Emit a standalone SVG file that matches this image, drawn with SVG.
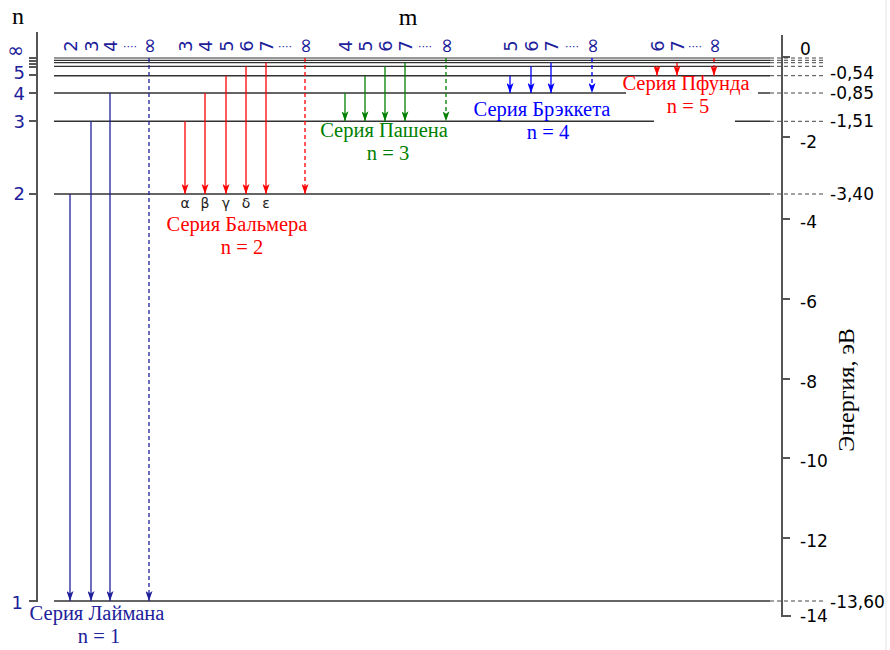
<svg xmlns="http://www.w3.org/2000/svg" width="890" height="650" viewBox="0 0 890 650">
<defs>
<style>
.lvl{stroke:#333;stroke-width:1.6;fill:none}
.lvt{stroke:#333;stroke-width:1.2;fill:none}
.ext{stroke:#444;stroke-width:1;stroke-dasharray:4,3;fill:none}
.ax{stroke:#555;stroke-width:2;fill:none}
.num{font-family:"DejaVu Sans",sans-serif;font-size:17px;fill:#000}
.nl{font-family:"DejaVu Sans",sans-serif;font-size:18px;fill:#20209a;text-anchor:end}
.ml{font-family:"DejaVu Sans",sans-serif;font-size:18px;fill:#20209a;text-anchor:middle}
.inf{font-size:20px}
.dots{font-family:"DejaVu Sans",sans-serif;font-size:11px;fill:#20209a}
.gr{font-family:"DejaVu Sans",sans-serif;font-size:14px;fill:#222;text-anchor:middle}
.ser{font-family:"Liberation Serif",serif;font-size:20.5px;text-anchor:middle}
.big{font-family:"Liberation Serif",serif;font-size:24px;fill:#000}
.a{stroke-width:1.3;fill:none}
.d{stroke-dasharray:4,3}
.ly{stroke:#20209a}.ba{stroke:#f00}.pa{stroke:#008000}.br{stroke:#00f}
</style>
<marker id="mLy" markerUnits="userSpaceOnUse" markerWidth="10" markerHeight="7" refX="10" refY="3.5" orient="auto"><path d="M0,0 L10,3.5 L0,7 L2.5,3.5 Z" fill="#20209a"/></marker>
<marker id="mR" markerUnits="userSpaceOnUse" markerWidth="10" markerHeight="7" refX="10" refY="3.5" orient="auto"><path d="M0,0 L10,3.5 L0,7 L2.5,3.5 Z" fill="#f00"/></marker>
<marker id="mG" markerUnits="userSpaceOnUse" markerWidth="10" markerHeight="7" refX="10" refY="3.5" orient="auto"><path d="M0,0 L10,3.5 L0,7 L2.5,3.5 Z" fill="#008000"/></marker>
<marker id="mB" markerUnits="userSpaceOnUse" markerWidth="10" markerHeight="7" refX="10" refY="3.5" orient="auto"><path d="M0,0 L10,3.5 L0,7 L2.5,3.5 Z" fill="#00f"/></marker>
</defs>
<rect width="890" height="650" fill="#fff"/>
<line x1="886" y1="0" x2="886" y2="650" stroke="#e2e2e2" stroke-width="1"/>

<g id="axes">
<text x="18" y="24" class="big" text-anchor="middle">n</text>
<text x="408" y="25" class="big" text-anchor="middle">m</text>
<path class="ax" d="M37,32 V601 H29"/>
<path class="ax" d="M29,58H37 M29,61H37 M29,64H37 M29,67H37 M29,75H37 M29,93H37 M29,121H37 M29,194H37"/>
<path class="ax" d="M782,35 V616 H791"/>
<path class="ax" d="M782,57H790 M782,137H790 M782,219H790 M782,299H790 M782,379H790 M782,458H790 M782,538H790"/>
<text class="big" transform="translate(854,390) rotate(-90)" text-anchor="middle">Энергия, эВ</text>
</g>

<g id="levels">
<path class="lvt" d="M54,58H770 M54,60.3H770 M54,62.7H770 M54,66.3H770"/>
<path class="lvl" d="M54,75.7H770 M54,93H626 M758,93H770 M54,121.3H654 M735,121.3H770 M54,194H770 M54,601H770"/>
<path class="ext" d="M770,58H826 M770,60.3H826 M770,62.7H826 M770,66.3H826 M770,75.7H826 M770,93H826 M770,121.3H826 M770,194H826 M770,601H826"/>
</g>

<g id="n-labels">
<text class="nl inf" x="24" y="57.3">∞</text>
<text class="nl" x="25" y="79.3">5</text>
<text class="nl" x="25" y="100.3">4</text>
<text class="nl" x="25" y="128">3</text>
<text class="nl" x="25" y="200">2</text>
<text class="nl" x="23" y="609">1</text>
</g>

<g id="energy-labels">
<text class="num" x="800" y="55">0</text>
<text class="num" x="830" y="79">-0,54</text>
<text class="num" x="830" y="99">-0,85</text>
<text class="num" x="830" y="127">-1,51</text>
<text class="num" x="830" y="200">-3,40</text>
<text class="num" x="830" y="608">-13,60</text>
<text class="num" x="800" y="148">-2</text>
<text class="num" x="800" y="228">-4</text>
<text class="num" x="800" y="308">-6</text>
<text class="num" x="800" y="388">-8</text>
<text class="num" x="800" y="467">-10</text>
<text class="num" x="800" y="547">-12</text>
<text class="num" x="800" y="622">-14</text>
</g>

<g id="m-labels">
<text class="ml" transform="translate(76.5,46) rotate(-90)">2</text>
<text class="ml" transform="translate(97.5,46) rotate(-90)">3</text>
<text class="ml" transform="translate(116.5,46) rotate(-90)">4</text>
<text class="dots" x="123" y="50">····</text>
<text class="ml inf" transform="translate(156,46) rotate(-90)">∞</text>

<text class="ml" transform="translate(191.5,46) rotate(-90)">3</text>
<text class="ml" transform="translate(211.5,46) rotate(-90)">4</text>
<text class="ml" transform="translate(232.5,46) rotate(-90)">5</text>
<text class="ml" transform="translate(252.5,46) rotate(-90)">6</text>
<text class="ml" transform="translate(272.5,46) rotate(-90)">7</text>
<text class="dots" x="278" y="50">····</text>
<text class="ml inf" transform="translate(312,46) rotate(-90)">∞</text>

<text class="ml" transform="translate(351.5,46) rotate(-90)">4</text>
<text class="ml" transform="translate(371.5,46) rotate(-90)">5</text>
<text class="ml" transform="translate(391.5,46) rotate(-90)">6</text>
<text class="ml" transform="translate(411.5,46) rotate(-90)">7</text>
<text class="dots" x="418" y="50">····</text>
<text class="ml inf" transform="translate(453,46) rotate(-90)">∞</text>

<text class="ml" transform="translate(516.5,46) rotate(-90)">5</text>
<text class="ml" transform="translate(537.5,46) rotate(-90)">6</text>
<text class="ml" transform="translate(557.5,46) rotate(-90)">7</text>
<text class="dots" x="565" y="50">····</text>
<text class="ml inf" transform="translate(599,46) rotate(-90)">∞</text>

<text class="ml" transform="translate(663.5,46) rotate(-90)">6</text>
<text class="ml" transform="translate(683.5,46) rotate(-90)">7</text>
<text class="dots" x="688" y="50">····</text>
<text class="ml inf" transform="translate(721,46) rotate(-90)">∞</text>
</g>

<g id="connectors">
<g class="a ly" marker-end="url(#mLy)">
<line x1="70" y1="194" x2="70" y2="601"/>
<line x1="91" y1="121.3" x2="91" y2="601"/>
<line x1="110" y1="93" x2="110" y2="601"/>
<line class="d" x1="149" y1="58" x2="149" y2="601"/>
</g>
<g class="a ba" marker-end="url(#mR)">
<line x1="185" y1="121.3" x2="185" y2="194"/>
<line x1="205" y1="93" x2="205" y2="194"/>
<line x1="226" y1="75.7" x2="226" y2="194"/>
<line x1="246" y1="66.3" x2="246" y2="194"/>
<line x1="266" y1="62.7" x2="266" y2="194"/>
<line class="d" x1="305" y1="58" x2="305" y2="194"/>
</g>
<g class="a pa" marker-end="url(#mG)">
<line x1="345" y1="93" x2="345" y2="121.3"/>
<line x1="365" y1="75.7" x2="365" y2="121.3"/>
<line x1="385" y1="66.3" x2="385" y2="121.3"/>
<line x1="405" y1="62.7" x2="405" y2="121.3"/>
<line class="d" x1="446" y1="58" x2="446" y2="121.3"/>
</g>
<g class="a br" marker-end="url(#mB)">
<line x1="510" y1="75.7" x2="510" y2="93"/>
<line x1="531" y1="66.3" x2="531" y2="93"/>
<line x1="551" y1="62.7" x2="551" y2="93"/>
<line class="d" x1="592" y1="58" x2="592" y2="93"/>
</g>
<g class="a ba" marker-end="url(#mR)">
<line x1="657" y1="66.3" x2="657" y2="75.7"/>
<line x1="677" y1="62.7" x2="677" y2="75.7"/>
<line class="d" x1="714" y1="58" x2="714" y2="75.7"/>
</g>
</g>

<g id="greek">
<text class="gr" x="185" y="208">α</text>
<text class="gr" x="205" y="208">β</text>
<text class="gr" x="226" y="208">γ</text>
<text class="gr" x="246" y="208">δ</text>
<text class="gr" x="266" y="208">ε</text>
</g>

<g id="lyman" fill="#20209a">
<text class="ser" x="97" y="620">Серия Лаймана</text>
<text class="ser" x="99" y="643">n = 1</text>
</g>
<g id="balmer" fill="#f00">
<text class="ser" x="237" y="231">Серия Бальмера</text>
<text class="ser" x="242" y="254">n = 2</text>
</g>
<g id="paschen" fill="#008000">
<text class="ser" x="384" y="137">Серия Пашена</text>
<text class="ser" x="388" y="160">n = 3</text>
</g>
<g id="brackett" fill="#00f">
<text class="ser" x="542" y="116">Серия Брэккета</text>
<text class="ser" x="548" y="139">n = 4</text>
</g>
<g id="pfund" fill="#f00">
<text class="ser" x="686" y="90">Серия Пфунда</text>
<text class="ser" x="688" y="113">n = 5</text>
</g>
</svg>
